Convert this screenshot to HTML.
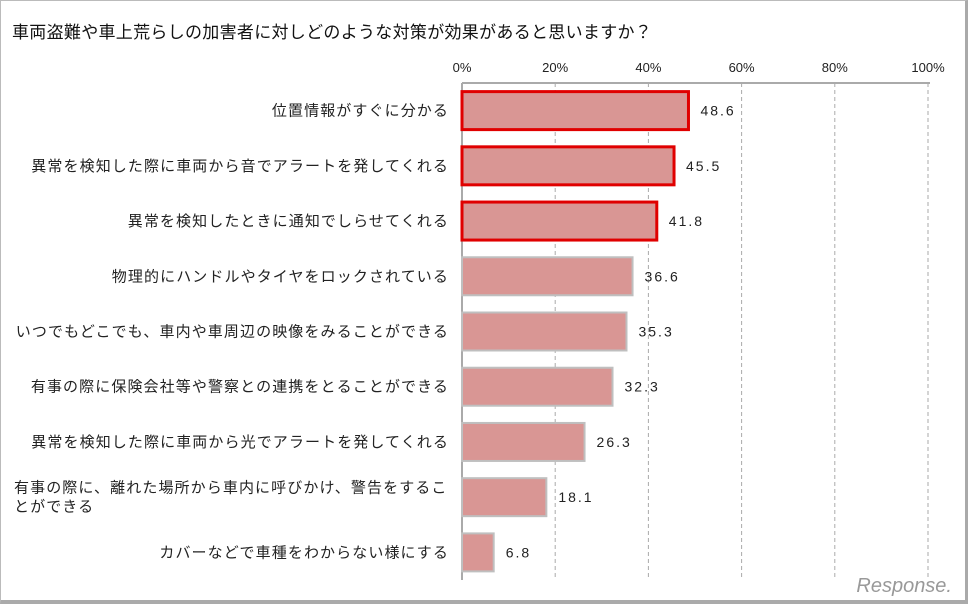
<!DOCTYPE html>
<html><head><meta charset="utf-8"><style>
html,body{margin:0;padding:0;background:#fff}
#wrap{position:relative;width:968px;height:605px;overflow:hidden;font-family:"Liberation Sans","Noto Sans CJK JP",sans-serif}
#frame{position:absolute;left:0;top:0;width:964px;height:599px;border:1px solid #bbb;border-right:3px solid #aaa;border-bottom:4px solid #aaa;box-sizing:content-box}
#title{position:absolute;left:12px;top:18px;font-size:17px;color:#111;letter-spacing:0.3px}
</style></head><body>
<div id="wrap">
<div id="frame"></div>
<div id="title">車両盗難や車上荒らしの加害者に対しどのような対策が効果があると思いますか？</div>
<svg id="chart" width="968" height="605" style="position:absolute;left:0;top:0"></svg>
</div>
<script>
const categories=["位置情報がすぐに分かる","異常を検知した際に車両から音でアラートを発してくれる","異常を検知したときに通知でしらせてくれる","物理的にハンドルやタイヤをロックされている","いつでもどこでも、車内や車周辺の映像をみることができる","有事の際に保険会社等や警察との連携をとることができる","異常を検知した際に車両から光でアラートを発してくれる","有事の際に、離れた場所から車内に呼びかけ、警告をすることができる","カバーなどで車種をわからない様にする"];
const values=[48.6,45.5,41.8,36.6,35.3,32.3,26.3,18.1,6.8];
const highlighted=[true,true,true,false,false,false,false,false,false];
const ticks=[0,20,40,60,80,100];
const tickLabels=["0%","20%","40%","60%","80%","100%"];
const NS="http://www.w3.org/2000/svg";
const svg=document.getElementById('chart');
const x0=462,x1=928,yTop=83,yBot=580;
const xs=v=>x0+(x1-x0)*v/100;
const band=(yBot-yTop)/categories.length;
const yc=i=>yTop+band*(i+0.5);
function mk(t,a){const e=document.createElementNS(NS,t);for(const k in a)e.setAttribute(k,a[k]);svg.appendChild(e);return e;}
ticks.forEach((t,i)=>{
 if(t>0){const g=mk('line',{x1:xs(t),x2:xs(t),y1:yTop,y2:yBot,stroke:'#aaa','stroke-dasharray':'4,3','stroke-width':1});
 
 }
 const l=mk('text',{x:xs(t),y:72,'text-anchor':'middle','font-size':13,fill:'#222','font-family':'"Liberation Sans Narrow","Liberation Sans",sans-serif'});
 l.textContent=tickLabels[i];
 
 
});
const ax=mk('line',{x1:x0,x2:x1+2,y1:yTop,y2:yTop,stroke:'#aaa','stroke-width':2});


const ay=mk('line',{x1:x0,x2:x0,y1:yTop,y2:yBot,stroke:'#aaa','stroke-width':2});


categories.forEach((c,i)=>{
 const h=38,y=yc(i)-h/2;
 const r=mk('rect',{x:x0,y:y,width:xs(values[i])-x0,height:h,fill:'#d99694',stroke:highlighted[i]?'#e00000':'#bfbfbf','stroke-width':highlighted[i]?3:2});
 
 
 const v=mk('text',{x:xs(values[i])+12,y:yc(i)+5,'font-size':14,fill:'#222','font-family':'"Liberation Sans Narrow","Liberation Sans",sans-serif','letter-spacing':'2'});
 v.textContent=values[i].toFixed(1);
 
 
 const lines=c.length>28?[c.slice(0,27),c.slice(27)]:[c];
 lines.forEach((ln,j)=>{
  const t=mk('text',{x:449,y:yc(i)+5+(j-(lines.length-1)/2)*19,'text-anchor':lines.length>1?'start':'end','font-size':15,'letter-spacing':'1.1',fill:'#222'});
  if(lines.length>1)t.setAttribute('x',14);
  t.textContent=ln;
  
  
 });
});
const wm=mk('text',{x:952,y:592,'text-anchor':'end','font-size':20,fill:'#999','font-style':'italic'});
wm.textContent='Response.';


</script>
</body></html>
